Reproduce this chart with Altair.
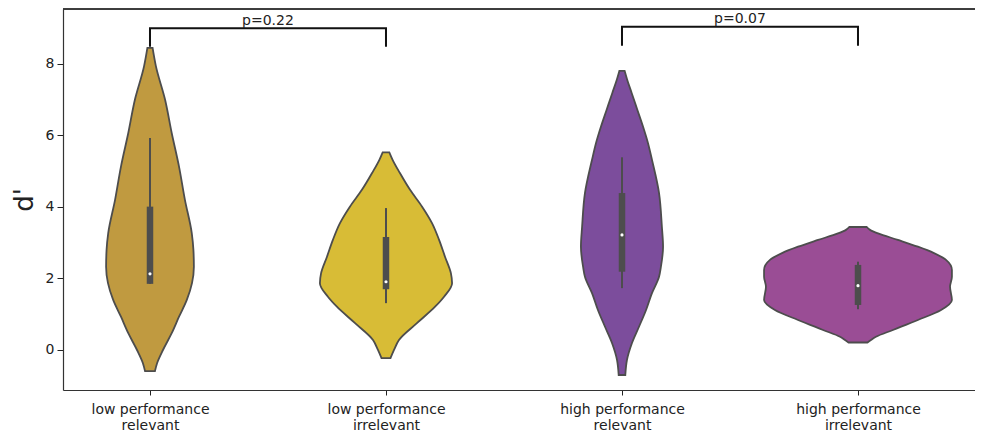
import json
import altair as alt
import pandas as pd

# ---------------- data ----------------
groups = ["low performance relevant", "low performance irrelevant",
          "high performance relevant", "high performance irrelevant"]
label_lines = [["low performance", "relevant"], ["low performance", "irrelevant"],
               ["high performance", "relevant"], ["high performance", "irrelevant"]]
positions = [0, 1, 2, 3]
colors = ["#C09A40", "#D8BC36", "#7C4D9C", "#9A4D95"]

# violin outlines: d' levels and half widths (in category units)
v1_levels = [-0.59, -0.37, 0.0, 0.47, 0.93, 1.40, 1.87, 2.33, 2.80, 3.27, 4.20, 5.13, 6.07, 7.00, 7.94, 8.45]
v1_half = [0.021, 0.030, 0.055, 0.092, 0.123, 0.156, 0.178, 0.186, 0.184, 0.177, 0.148, 0.123, 0.092, 0.064, 0.025, 0.011]

v2_levels = [-0.23, 0.0, 0.28, 0.75, 1.21, 1.49, 1.87, 2.15, 2.61, 3.08, 3.55, 4.01, 4.48, 4.95, 5.32, 5.53]
v2_half = [0.019, 0.034, 0.055, 0.131, 0.208, 0.246, 0.280, 0.275, 0.250, 0.225, 0.195, 0.153, 0.102, 0.059, 0.028, 0.014]

v3_levels = [-0.70, -0.28, 0.19, 0.65, 1.12, 1.59, 2.05, 2.33, 2.89, 3.45, 4.39, 5.32, 5.79, 6.25, 6.72, 7.19, 7.56, 7.81]
v3_half = [0.014, 0.021, 0.042, 0.072, 0.102, 0.127, 0.157, 0.165, 0.174, 0.169, 0.157, 0.127, 0.110, 0.089, 0.065, 0.041, 0.022, 0.011]

v4_levels = [0.21, 0.28, 0.37, 0.56, 0.84, 1.12, 1.40, 1.77, 2.05, 2.24, 2.52, 2.71, 2.89, 3.08, 3.26, 3.36, 3.44]
v4_half = [0.040, 0.055, 0.076, 0.148, 0.254, 0.352, 0.398, 0.390, 0.398, 0.398, 0.373, 0.322, 0.254, 0.169, 0.085, 0.051, 0.037]

# inner box plots
whisker_low = [1.85, 1.31, 1.73, 1.14]
quart_low = [1.85, 1.70, 2.19, 1.26]
medians = [2.13, 1.91, 3.22, 1.80]
quart_high = [4.01, 3.16, 4.39, 2.38]
whisker_high = [5.93, 3.97, 5.39, 2.47]

# significance brackets
bracket_left = [0, 2]
bracket_right = [1, 3]
bracket_top = [9.00, 9.04]
bracket_foot = [8.48, 8.51]
bracket_text = ["p=0.22", "p=0.07"]

y_ticks = [0, 2, 4, 6, 8]

# ---------------- tables ----------------
rows = []
for g, pos, lv, hw in zip(groups, positions,
                          [v1_levels, v2_levels, v3_levels, v4_levels],
                          [v1_half, v2_half, v3_half, v4_half]):
    for i, (l, h) in enumerate(zip(lv, hw)):
        rows.append({"group": g, "i": i, "level": l, "lo": pos - h, "hi": pos + h})
violin_df = pd.DataFrame(rows)

box_df = pd.DataFrame({"group": groups, "pos": positions, "wl": whisker_low, "ql": quart_low,
                       "med": medians, "qh": quart_high, "wh": whisker_high})

brow = []
for b, (l, r, t, f) in enumerate(zip(bracket_left, bracket_right, bracket_top, bracket_foot)):
    for k, (xx, yy) in enumerate([(l, f), (l, t), (r, t), (r, f)]):
        brow.append({"b": b, "k": k, "x": xx, "y": yy})
bracket_df = pd.DataFrame(brow)
btext_df = pd.DataFrame({"x": [(l + r) / 2 for l, r in zip(bracket_left, bracket_right)],
                         "y": bracket_top, "t": bracket_text})

# ---------------- scales / axes ----------------
W, H = 912, 381
X_DOM = [-0.3686, 3.4958]
Y_DOM = [-1.119, 9.538]
FONT = "DejaVu Sans"
SPINE = "#333333"

expr = ""
for p, lines in zip(positions, label_lines):
    expr += f"datum.value == {p} ? {json.dumps(lines)} : "
expr += "''"

xscale = alt.Scale(domain=X_DOM, nice=False, zero=False)
yscale = alt.Scale(domain=Y_DOM, nice=False, zero=False)
xaxis = alt.Axis(values=positions, labelExpr=expr, title=None, grid=False,
                 domain=True, domainColor=SPINE, domainWidth=1.2,
                 tickSize=5, tickColor="#222222", tickWidth=1, labelPadding=7,
                 labelFontSize=14, labelFont=FONT, labelColor="#222222",
                 labelLineHeight=16, labelAngle=0)
yaxis = alt.Axis(values=y_ticks, title="d'", grid=False,
                 domain=True, domainColor=SPINE, domainWidth=1.2,
                 tickSize=6, tickColor="#222222", tickWidth=1, labelPadding=3,
                 labelFontSize=14, labelFont=FONT, labelColor="#222222",
                 titleFontSize=26, titleFont=FONT, titleFontWeight="normal",
                 titleColor="#222222", titlePadding=8)

color_scale = alt.Scale(domain=groups, range=colors)

violins = alt.Chart(violin_df).mark_area(
    orient="horizontal", interpolate="monotone", stroke="#4d4d4d", strokeWidth=1.8,
    opacity=1
).encode(
    y=alt.Y("level:Q", scale=yscale, axis=yaxis),
    x=alt.X("lo:Q", scale=xscale, axis=xaxis),
    x2="hi:Q",
    color=alt.Color("group:N", scale=color_scale, legend=None),
)

whiskers = alt.Chart(box_df).mark_rule(color="#4d4d4d", strokeWidth=2).encode(
    x=alt.X("pos:Q", scale=xscale, axis=xaxis),
    y=alt.Y("wl:Q", scale=yscale, axis=yaxis),
    y2="wh:Q",
)
boxes = alt.Chart(box_df).mark_rule(color="#4d4d4d", strokeWidth=6.5, strokeCap="butt").encode(
    x=alt.X("pos:Q", scale=xscale, axis=xaxis),
    y=alt.Y("ql:Q", scale=yscale, axis=yaxis),
    y2="qh:Q",
)
meds = alt.Chart(box_df).mark_point(filled=True, color="white", size=10, opacity=1).encode(
    x=alt.X("pos:Q", scale=xscale, axis=xaxis),
    y=alt.Y("med:Q", scale=yscale, axis=yaxis),
)

brackets = alt.Chart(bracket_df).mark_line(color="#111111", strokeWidth=2, interpolate="linear").encode(
    x=alt.X("x:Q", scale=xscale, axis=xaxis),
    y=alt.Y("y:Q", scale=yscale, axis=yaxis),
    detail="b:N",
    order=alt.Order("k:Q"),
)
btext = alt.Chart(btext_df).mark_text(font=FONT, fontSize=14, color="#222222",
                                      baseline="alphabetic", dy=-3.5).encode(
    x=alt.X("x:Q", scale=xscale, axis=xaxis),
    y=alt.Y("y:Q", scale=yscale, axis=yaxis),
    text="t:N",
)

# top spine of the frame
top_spine = alt.Chart(box_df).mark_rule(color=SPINE, strokeWidth=1.2).encode(
    x=alt.value(0), x2=alt.value(W), y=alt.value(0)
)

chart = alt.layer(violins, whiskers, boxes, meds, brackets, btext, top_spine).properties(
    width=W, height=H,
    autosize=alt.AutoSizeParams(type="none"),
    padding={"left": 55, "top": 1, "right": 0, "bottom": 43},
).configure_view(stroke=None).configure(background="white")

chart.save("out.html", embed_options={"renderer": "svg", "actions": False})
